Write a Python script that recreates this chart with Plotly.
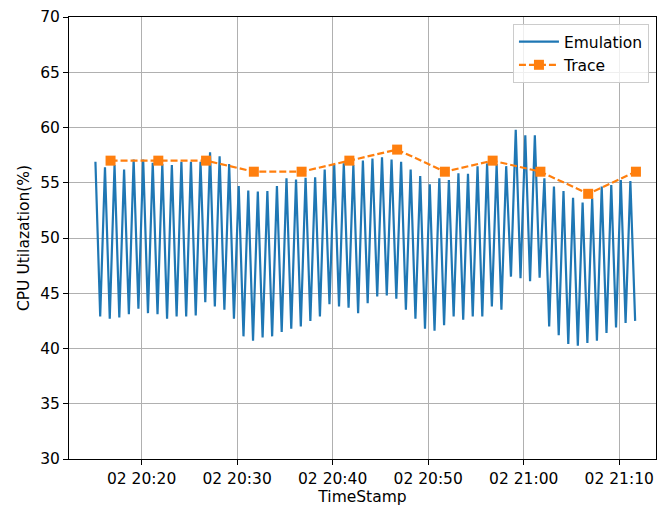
import pandas as pd
import plotly.graph_objects as go

# ---- data ----
emu_start = "2023-01-02 20:15:10"
emu_step = "30s"
emulation = [
    56.9, 42.9, 56.4, 42.7, 56.6, 42.8, 56.2, 43.1, 57.1, 43.6, 57.1, 43.2, 56.8, 43.1, 56.7,
    42.7, 56.6, 42.9, 56.9, 42.9, 56.9, 43.0, 56.9, 44.2, 57.75, 43.8, 57.4, 43.5, 56.7, 42.7,
    54.7, 41.1, 54.3, 40.7, 54.2, 41.0, 54.25, 41.1, 54.7, 41.5, 55.4, 41.8, 55.3, 42.0, 55.45,
    42.5, 55.5, 42.9, 56.2, 44.0, 56.6, 43.8, 56.75, 43.7, 56.6, 43.2, 57.0, 44.1, 57.2, 44.7,
    57.3, 44.8, 57.1, 44.5, 56.9, 43.5, 56.2, 42.7, 55.6, 41.8, 54.85, 41.6, 55.4, 42.1, 55.25,
    42.9, 55.85, 42.6, 55.8, 42.9, 56.5, 42.9, 56.75, 43.8, 56.7, 43.5, 56.5, 46.5, 59.8, 46.35,
    59.3, 46.1, 59.3, 46.4, 55.4, 42.0, 54.65, 41.2, 54.25, 40.4, 53.65, 40.25, 53.2, 40.5,
    53.6, 40.7, 54.65, 41.4, 54.8, 41.9, 55.25, 42.3, 55.15, 42.5,
]
trace_start = "2023-01-02 20:16:45"
trace_step = "5min"
trace = [57, 57, 57, 56, 56, 57, 58, 56, 57, 56, 54, 56]

emu_t = pd.date_range(emu_start, periods=len(emulation), freq=emu_step)
trace_t = pd.date_range(trace_start, periods=len(trace), freq=trace_step)

font = "DejaVu Sans, Liberation Sans, sans-serif"
fs = 15.5

fig = go.Figure()
fig.add_trace(go.Scatter(
    x=emu_t, y=emulation, mode="lines", name="Emulation",
    line=dict(color="#1f77b4", width=2.2),
))
fig.add_trace(go.Scatter(
    x=trace_t, y=trace, mode="lines+markers", name="Trace",
    line=dict(color="#ff7f0e", width=2.2, dash="7px,3px"),
    marker=dict(symbol="square", size=10, color="#ff7f0e"),
))

axis_common = dict(
    showline=True, linecolor="black", linewidth=1, mirror=True,
    ticks="outside", ticklen=5, tickcolor="black", tickwidth=1,
    showgrid=True, gridcolor="#b0b0b0", gridwidth=1, zeroline=False,
    tickfont=dict(family=font, size=fs, color="black"),
)

fig.update_layout(
    width=657, height=510,
    margin=dict(l=69, r=1, t=17, b=51),
    paper_bgcolor="white", plot_bgcolor="white",
    font=dict(family=font, size=fs, color="black"),
    showlegend=True,
    legend=dict(
        x=0.988, y=0.984, xanchor="right", yanchor="top",
        bgcolor="rgba(255,255,255,0.8)", bordercolor="#cccccc", borderwidth=1,
        font=dict(family=font, size=fs, color="black"),
        itemwidth=40,
    ),
    xaxis=dict(
        range=["2023-01-02 20:12:24", "2023-01-02 21:13:51"],
        tick0="2023-01-02 20:20:00", dtick=600000, tickformat="%d %H:%M",
        title=dict(text="TimeStamp", font=dict(family=font, size=fs), standoff=2),
        **axis_common,
    ),
    yaxis=dict(
        range=[30, 70], tick0=30, dtick=5,
        title=dict(text="CPU Utilazation(%)", font=dict(family=font, size=fs), standoff=6),
        **axis_common,
    ),
)

fig.write_html("out.html")
